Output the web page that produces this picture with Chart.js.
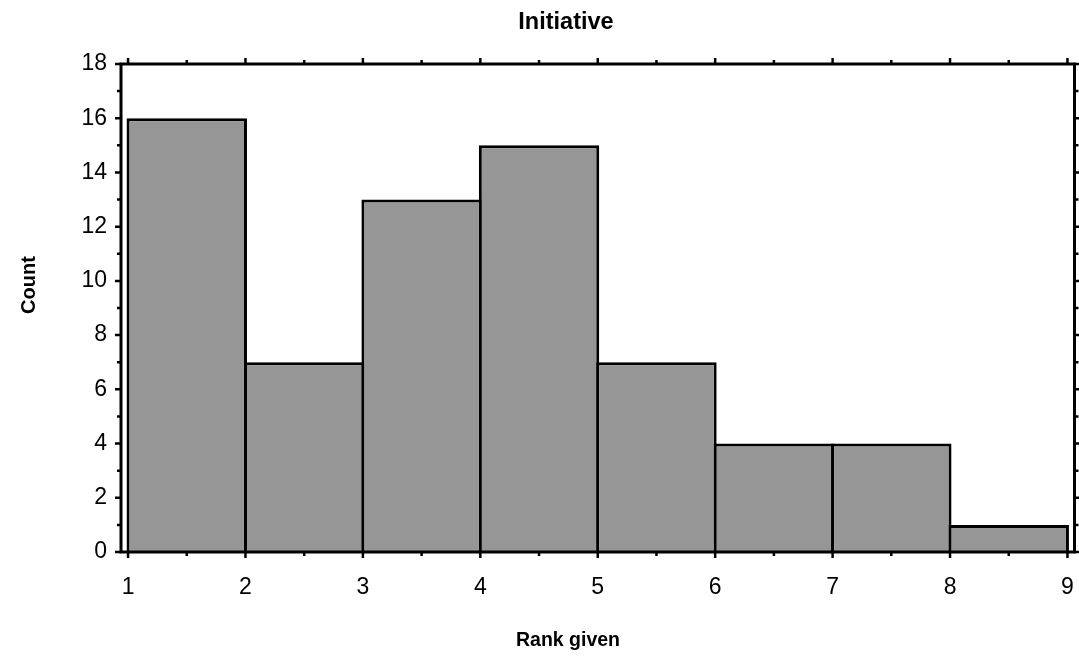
<!DOCTYPE html>
<html>
<head>
<meta charset="utf-8">
<script src="https://cdn.jsdelivr.net/npm/chart.js@4/dist/chart.umd.min.js"></script>
<style>
  html, body { margin: 0; padding: 0; background: #fff; }
  #wrap { width: 1079px; height: 660px; }
</style>
</head>
<body>
<div id="wrap"><canvas id="c" width="1079" height="660"></canvas></div>
<script>
// Histogram of ranks: one bin per unit between 1 and 9
const BIN_CENTERS = [1.5, 2.5, 3.5, 4.5, 5.5, 6.5, 7.5, 8.5];
const COUNTS      = [16, 7, 13, 15, 7, 4, 4, 1];

const X_TICKS = [1, 2, 3, 4, 5, 6, 7, 8, 9];
const X_MINOR = [1.5, 2.5, 3.5, 4.5, 5.5, 6.5, 7.5, 8.5];
const Y_TICKS = [0, 2, 4, 6, 8, 10, 12, 14, 16, 18];
const Y_MINOR = [1, 3, 5, 7, 9, 11, 13, 15, 17];

const TITLE   = 'Initiative';
const X_TITLE = 'Rank given';
const Y_TITLE = 'Count';

const FONT = 'Arial, "Liberation Sans", Helvetica, sans-serif';

// Boxed frame with outward tick marks on all four sides
const framePlugin = {
  id: 'frame',
  afterDatasetsDraw(chart) {
    const { ctx, chartArea: a, scales: { x, y } } = chart;
    ctx.save();
    ctx.strokeStyle = '#000';
    ctx.lineCap = 'butt';

    const major = 6, minor = 4;
    ctx.lineWidth = 2.5;
    ctx.beginPath();
    const vTick = (v, len) => {
      const px = x.getPixelForValue(v);
      ctx.moveTo(px, a.bottom); ctx.lineTo(px, a.bottom + len);
      ctx.moveTo(px, a.top);    ctx.lineTo(px, a.top - len);
    };
    const hTick = (v, len) => {
      const py = y.getPixelForValue(v);
      ctx.moveTo(a.left, py);  ctx.lineTo(a.left - len, py);
      ctx.moveTo(a.right, py); ctx.lineTo(a.right + len, py);
    };
    X_TICKS.forEach(v => vTick(v, major));
    X_MINOR.forEach(v => vTick(v, minor));
    Y_TICKS.forEach(v => hTick(v, major));
    Y_MINOR.forEach(v => hTick(v, minor));
    ctx.stroke();

    ctx.lineWidth = 3;
    ctx.strokeRect(a.left, a.top, a.right - a.left, a.bottom - a.top);
    ctx.restore();
  },
  afterDraw(chart) {
    const { ctx } = chart;
    ctx.save();
    ctx.fillStyle = '#000';
    ctx.textAlign = 'center';
    ctx.textBaseline = 'alphabetic';

    ctx.font = 'bold 23.5px ' + FONT;
    ctx.fillText(TITLE, 566, 29);

    ctx.font = 'bold 19.5px ' + FONT;
    ctx.fillText(X_TITLE, 568, 646);

    ctx.font = 'bold 20px ' + FONT;
    ctx.translate(35, 285);
    ctx.rotate(-Math.PI / 2);
    ctx.fillText(Y_TITLE, 0, 0);
    ctx.restore();
  }
};

new Chart(document.getElementById('c'), {
  type: 'bar',
  data: {
    datasets: [{
      label: Y_TITLE,
      data: BIN_CENTERS.map((c, i) => ({ x: c, y: COUNTS[i] })),
      backgroundColor: '#969696',
      borderColor: '#000000',
      borderWidth: 3,
      borderSkipped: 'start',
      barPercentage: 1.0256,
      categoryPercentage: 1,
      inflateAmount: 0
    }]
  },
  options: {
    responsive: false,
    devicePixelRatio: 1,
    animation: false,
    events: [],
    layout: { padding: { top: 64, right: 4.5, bottom: 0, left: 0 } },
    plugins: {
      legend: { display: false },
      title: { display: false },
      tooltip: { enabled: false }
    },
    scales: {
      x: {
        type: 'linear',
        min: 0.94,
        max: 9.06,
        offset: false,
        afterBuildTicks: s => { s.ticks = X_TICKS.map(v => ({ value: v })); },
        afterFit: s => { s.height = 108; s.paddingLeft = 0; s.paddingRight = 0; },
        grid: { display: false, drawTicks: false },
        border: { display: false },
        ticks: {
          autoSkip: false,
          maxRotation: 0,
          padding: 22,
          color: '#000',
          font: { family: FONT, size: 23 },
          callback: v => String(v)
        }
      },
      y: {
        type: 'linear',
        min: 0,
        max: 18,
        afterBuildTicks: s => { s.ticks = Y_TICKS.map(v => ({ value: v })); },
        afterFit: s => { s.width = 121; s.paddingTop = 0; s.paddingBottom = 0; },
        grid: { display: false, drawTicks: false },
        border: { display: false },
        ticks: {
          padding: 14,
          color: '#000',
          font: { family: FONT, size: 23 },
          callback: v => String(v)
        }
      }
    }
  },
  plugins: [framePlugin]
});
</script>
</body>
</html>
